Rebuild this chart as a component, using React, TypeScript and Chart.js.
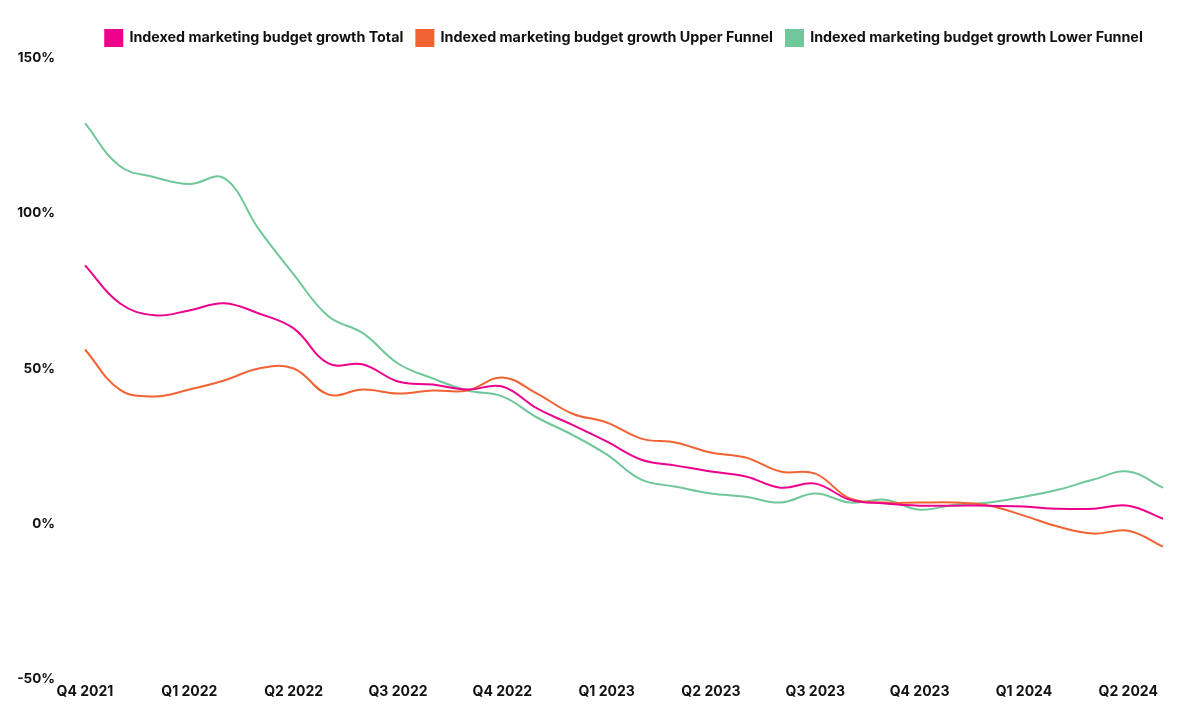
import React, { useEffect, useRef } from "react";
import { Chart, registerables } from "chart.js";

Chart.register(...registerables);

const quarterLabels = [
  "Q4 2021", "Q1 2022", "Q2 2022", "Q3 2022", "Q4 2022", "Q1 2023",
  "Q2 2023", "Q3 2023", "Q4 2023", "Q1 2024", "Q2 2024",
];

// monthly points: a quarter label every third point
const monthLabels = [
  "Oct 2021", "Nov 2021", "Dec 2021", "Jan 2022", "Feb 2022", "Mar 2022",
  "Apr 2022", "May 2022", "Jun 2022", "Jul 2022", "Aug 2022", "Sep 2022",
  "Oct 2022", "Nov 2022", "Dec 2022", "Jan 2023", "Feb 2023", "Mar 2023",
  "Apr 2023", "May 2023", "Jun 2023", "Jul 2023", "Aug 2023", "Sep 2023",
  "Oct 2023", "Nov 2023", "Dec 2023", "Jan 2024", "Feb 2024", "Mar 2024",
  "Apr 2024", "May 2024",
];

const totalValues = [
  83.2, 71, 67.1, 68.7, 71, 67.7, 62.9, 51.6, 51.3, 45.8, 44.8, 43.2,
  44.2, 37.1, 31.9, 26.5, 20.6, 18.7, 16.8, 15.2, 11.6, 12.9, 7.7, 6.5,
  5.8, 5.8, 5.8, 5.5, 4.8, 4.8, 5.8, 1.6,
];

const upperValues = [
  56.1, 43.2, 41, 43.2, 46.1, 50, 50, 41.6, 43.2, 41.9, 42.9, 42.9,
  47.1, 41.9, 35.5, 32.6, 27.4, 26.1, 22.9, 21.3, 16.8, 16.1, 8.1, 6.8,
  6.8, 6.8, 5.8, 2.6, -1, -3.2, -2.3, -7.4,
];

const lowerValues = [
  129, 115.2, 111.6, 109.4, 111.3, 94.8, 80.3, 66.8, 61.3, 51.6, 46.8, 42.9,
  41, 34.2, 28.7, 22.3, 14.2, 11.9, 9.7, 8.7, 6.8, 9.7, 6.8, 7.7,
  4.5, 6.1, 6.8, 8.7, 11, 14.2, 16.8, 11.6,
];

const seriesNames = [
  "Indexed marketing budget growth Total",
  "Indexed marketing budget growth Upper Funnel",
  "Indexed marketing budget growth Lower Funnel",
];

const colors = ["#EC008C", "#F26334", "#6FC79A"];

const legendSpacing = {
  id: "legendSpacing",
  beforeInit(chart: any) {
    const origFit = chart.legend.fit;
    chart.legend.fit = function () {
      origFit.bind(chart.legend)();
      this.height += 2;
    };
  },
};

export default function App() {
  const canvasRef = useRef<HTMLCanvasElement | null>(null);

  useEffect(() => {
    document.documentElement.style.overflow = "hidden";
    document.body.style.overflow = "hidden";
    if (!canvasRef.current) return;
    const font = { family: "Inter", size: 14, weight: "bold" as const };
    const legendFont = { family: "Inter", size: 14.3, weight: "bold" as const };
    const yFont = { family: "Inter", size: 13.5, weight: "bold" as const };
    const chart = new Chart(canvasRef.current, {
      type: "line",
      data: {
        labels: monthLabels,
        datasets: [totalValues, upperValues, lowerValues].map((vals, i) => ({
          label: seriesNames[i],
          data: vals,
          borderColor: colors[i],
          backgroundColor: colors[i],
          borderWidth: 2,
          pointRadius: 0,
          pointHoverRadius: 0,
          tension: 0.4,
          fill: false,
        })),
      },
      plugins: [legendSpacing],
      options: {
        animation: false,
        responsive: true,
        maintainAspectRatio: false,
        layout: { padding: { left: 4, right: 29, top: 9, bottom: 0 } },
        plugins: {
          legend: {
            position: "top",
            fullSize: false,
            labels: {
              color: "#111",
              font: legendFont,
              boxWidth: 17,
              boxHeight: 16,
              padding: 13,
            },
          },
          tooltip: { enabled: false },
        },
        scales: {
          x: {
            grid: { display: false, drawTicks: false },
            border: { display: false },
            ticks: {
              color: "#111",
              font,
              autoSkip: false,
              maxRotation: 0,
              minRotation: 0,
              padding: 4,
              callback: (_v: any, idx: number) =>
                idx % 3 === 0 ? quarterLabels[idx / 3] ?? "" : "",
            },
          },
          y: {
            min: -50,
            max: 150,
            grid: { display: false, drawTicks: false },
            border: { display: false },
            afterFit: (scale: any) => {
              scale.width = 73;
            },
            ticks: {
              color: "#111",
              font: yFont,
              stepSize: 50,
              padding: 30,
              callback: (v: any) => `${v}%`,
            },
          },
        },
      },
    });
    return () => chart.destroy();
  }, []);

  return (
    <div style={{ width: "1184px", height: "709px", position: "relative" }}>
      <canvas ref={canvasRef} />
    </div>
  );
}
